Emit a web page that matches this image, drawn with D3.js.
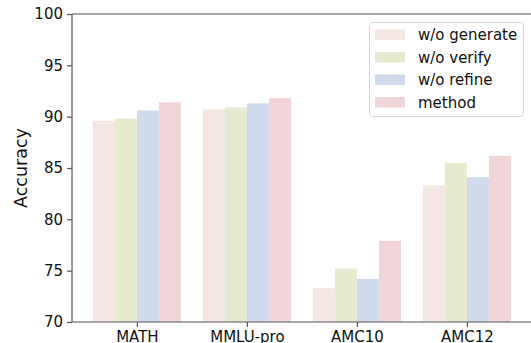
<!DOCTYPE html>
<html><head><meta charset="utf-8">
<script src="https://cdn.jsdelivr.net/npm/d3@7"></script>
<style>body{margin:0;background:#fff;overflow:hidden}svg{display:block}text{font-family:"DejaVu Sans",sans-serif}</style>
</head><body>
<script>
const categories = ["MATH", "MMLU-pro", "AMC10", "AMC12"];
const seriesNames = ["w/o generate", "w/o verify", "w/o refine", "method"];
const woGenerate = [89.6, 90.7, 73.3, 83.3];
const woVerify = [89.8, 90.9, 75.2, 85.5];
const woRefine = [90.6, 91.3, 74.2, 84.1];
const method = [91.4, 91.8, 77.9, 86.2];
const yTicks = [70, 75, 80, 85, 90, 95, 100];
const colors = ["#f3e6e3", "#e6ebcf", "#cfdbed", "#f2d5d8"];
const series = [woGenerate, woVerify, woRefine, method];

const W = 531, H = 343;
const mLeft = 72, mTop = 14, mBottom = 322;
const svg = d3.select("body").append("svg").attr("width", W).attr("height", H);

const x = d3.scaleLinear().domain([-0.59, 3.59]).range([mLeft, mLeft + 4.18 * 110]);
const y = d3.scaleLinear().domain([70, 100]).range([mBottom, mTop]);
const bw = 0.2;

series.forEach((vals, si) => {
  svg.append("g").selectAll("rect").data(vals).join("rect")
    .attr("x", (d, i) => x(i - 0.4 + si * bw))
    .attr("width", x(bw) - x(0))
    .attr("y", d => y(d))
    .attr("height", d => y(70) - y(d))
    .attr("fill", colors[si]);
});

const axisColor = "#555";
const ya = svg.append("g").attr("transform", `translate(${mLeft},0)`)
  .call(d3.axisLeft(y).tickValues(yTicks).tickSize(5).tickPadding(4));
ya.select(".domain").remove();
ya.selectAll(".tick line").attr("stroke", axisColor).attr("stroke-width", 1.2);
ya.selectAll(".tick text").attr("font-size", 15).attr("fill", "#111").attr("font-family", "DejaVu Sans");

const xa = svg.append("g").attr("transform", `translate(0,${mBottom})`)
  .call(d3.axisBottom(x).tickValues(d3.range(categories.length)).tickFormat(i => categories[i]).tickSize(5).tickPadding(4));
xa.select(".domain").remove();
xa.selectAll(".tick line").attr("stroke", axisColor).attr("stroke-width", 1.2);
xa.selectAll(".tick text").attr("font-size", 15).attr("fill", "#111").attr("font-family", "DejaVu Sans");

const spine = (x1, y1, x2, y2) => svg.append("line").attr("x1", x1).attr("y1", y1).attr("x2", x2).attr("y2", y2)
  .attr("stroke", axisColor).attr("stroke-width", 1.2);
spine(mLeft, mTop, mLeft, mBottom);
spine(mLeft, mBottom, W, mBottom);
spine(mLeft, mTop, W, mTop);

svg.append("text").attr("transform", `translate(27,${(mTop + mBottom) / 2}) rotate(-90)`)
  .attr("text-anchor", "middle").attr("font-size", 17.5).attr("fill", "#111").text("Accuracy");

const lg = svg.append("g");
lg.append("rect").attr("x", 369.5).attr("y", 22.5).attr("width", 154).attr("height", 94).attr("rx", 3)
  .attr("fill", "#fff").attr("fill-opacity", 0.8).attr("stroke", "#d6d6d6");
seriesNames.forEach((n, i) => {
  const cy = 34.5 + i * 22.5;
  lg.append("rect").attr("x", 375).attr("y", cy - 5).attr("width", 30).attr("height", 10.5).attr("fill", colors[i]);
  lg.append("text").attr("x", 418).attr("y", cy + 5.5).attr("font-size", 15).attr("fill", "#111").text(n);
});
</script>
</body></html>
